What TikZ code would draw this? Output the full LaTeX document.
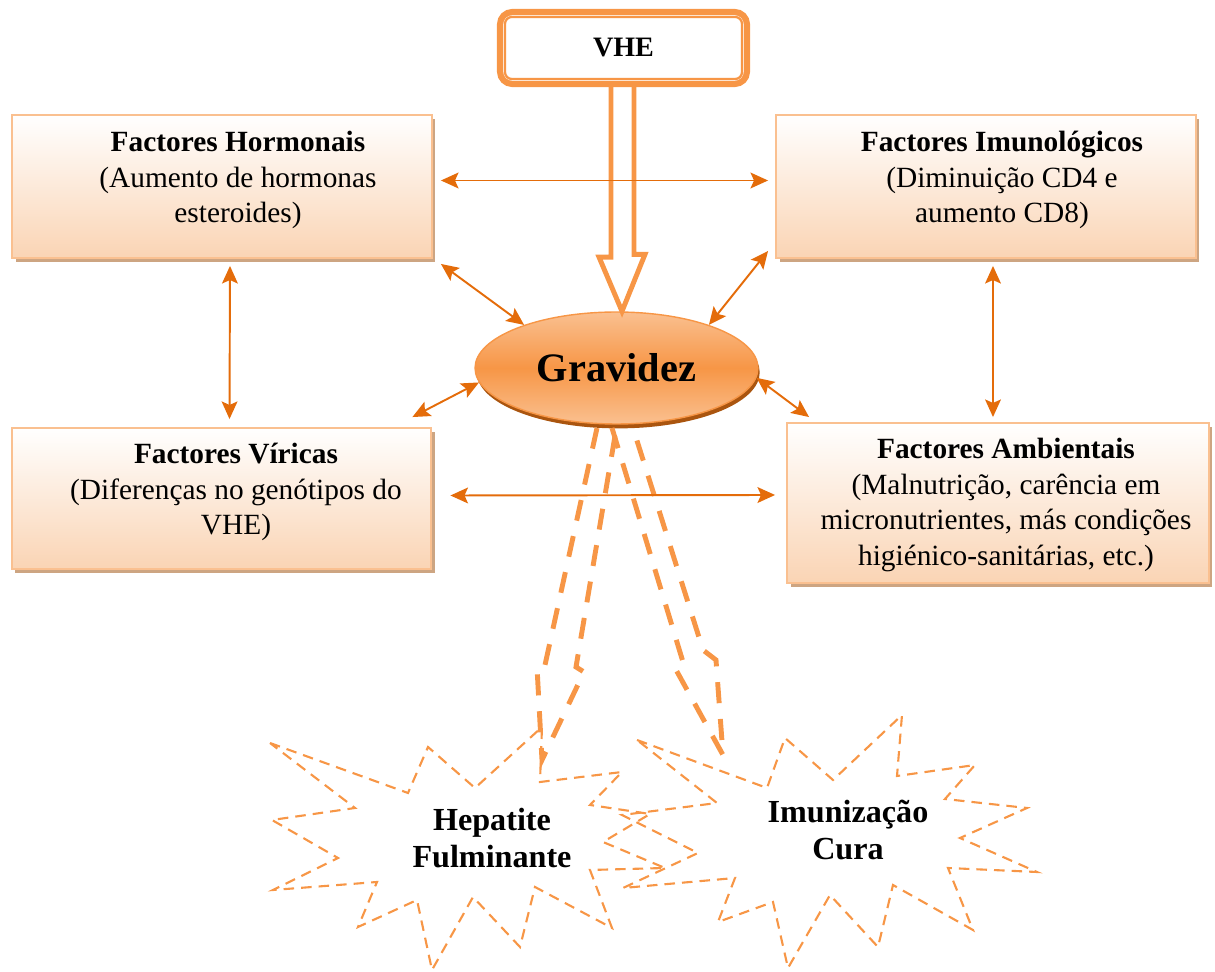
\documentclass[tikz,border=0pt]{standalone}
\usepackage{fontspec}
\setmainfont{Liberation Serif}
\usetikzlibrary{arrows.meta,shapes.geometric,shadows}

\definecolor{accorange}{RGB}{247,150,70}
\definecolor{darkorange}{RGB}{228,108,10}
\definecolor{lightorange}{RGB}{250,192,144}
\definecolor{boxpeach}{RGB}{250,212,180}
\definecolor{boxshadow}{RGB}{205,165,130}
\definecolor{rimbrown}{RGB}{170,85,15}

\tikzset{
  fbox/.style={rectangle, draw=lightorange, line width=1.1pt, top color=white, bottom color=boxpeach,
    minimum width=8.4cm, minimum height=2.86cm,
    drop shadow={shadow xshift=2pt, shadow yshift=-2.5pt, fill=boxshadow, opacity=1}},
  ftext/.style={align=center, font=\fontsize{16.7}{20.3}\selectfont},
  gravell/.style={ellipse, inner sep=0pt, minimum width=5.66cm, minimum height=2.24cm,
    draw=accorange, line width=0.8pt, top color=lightorange, bottom color=lightorange, middle color=accorange,
    drop shadow={shadow xshift=1pt, shadow yshift=-2.5pt, fill=rimbrown, opacity=1},
    font=\bfseries\fontsize{23}{27}\selectfont},
  vhebox/.style={rectangle, rounded corners=7pt, draw=accorange, line width=3.5pt, fill=white,
    minimum width=4.94cm, minimum height=1.44cm, font=\bfseries\fontsize{16}{19}\selectfont},
  vheinner/.style={draw=accorange, line width=1.3pt, rounded corners=4pt},
  hollowarr/.style={draw=accorange, line width=2.8pt, line join=miter},
  dasharr/.style={draw=accorange, line width=2.8pt, dash pattern=on 12pt off 9pt},
  starline/.style={draw=accorange, line width=1.2pt, dash pattern=on 6pt off 4pt, line join=miter},
  startext/.style={align=center, font=\bfseries\fontsize{18.3}{21}\selectfont},
  biarrow/.style={{Stealth[length=10pt,width=9pt,inset=2pt]}-{Stealth[length=10pt,width=9pt,inset=2pt]},
    draw=darkorange, line width=1.1pt}
}

\begin{document}
\begin{tikzpicture}[x=0.02cm, y=-0.02cm]
\useasboundingbox (0,0) rectangle (1215,972);

% factor boxes
\node (horm) at (222,186.5) [fbox] {};
\node (imun) at (986,186.5) [fbox] {};
\node (viri) at (221.5,498.5) [fbox, minimum height=2.82cm] {};
\node (ambi) at (998,503) [fbox, minimum width=8.44cm, minimum height=3.2cm] {};

\node (grav) at (616.5,368) [gravell] {Gravidez};

\node (vhe) at (623.5,48) [vhebox] {VHE};
\draw[vheinner] ([shift={(8,8)}]vhe.north west) rectangle ([shift={(-8,-8)}]vhe.south east);

% dashed block arrows to the outcomes
\draw[dasharr] (597,428) -- (545,665) -- (537,667) -- (542,760) -- (584,672) -- (576,667) -- (616,430);
\draw[dasharr] (612,428) -- (683,662) -- (675,668) -- (723,755) -- (716,660) -- (703,650) -- (633,428);

% outcome stars
\draw[starline] (270,743) -- (408,793) -- (428,747) -- (475,788) -- (542,727) -- (540,782)
  -- (622,772) -- (590,805) -- (650,814) -- (603,842) -- (665,868) -- (590,870)
  -- (612,928) -- (535,887) -- (520,947) -- (473,897) -- (432,970) -- (417,900)
  -- (358,927) -- (377,882) -- (273,890) -- (338,858) -- (272,820) -- (355,808) -- cycle;
\draw[starline] (637,740) -- (767,788) -- (785,738) -- (833,780) -- (902,715) -- (897,776)
  -- (975,765) -- (945,799) -- (1027,808) -- (960,838) -- (1037,872) -- (948,868)
  -- (973,930) -- (893,885) -- (878,947) -- (830,895) -- (788,968) -- (773,902)
  -- (718,922) -- (735,878) -- (623,888) -- (698,853) -- (622,815) -- (717,803) -- cycle;

% VHE into Gravidez
\draw[hollowarr] ([xshift=-0.25cm]vhe.south) -- ++(0,170) -- ++(-12,0) -- ([xshift=0.11cm]grav.north)
  -- ++(23,-57) -- ++(-11,0) -- ++(0,-170);

% links between factors
\draw[biarrow] ([shift={(8,-6)}]horm.east) -- ([shift={(-7,-6)}]imun.west);
\draw[biarrow] ([shift={(8,5)}]horm.south east) -- (grav.155);
\draw[biarrow] ([shift={(-7,-8)}]imun.south west) -- (grav.25);
\draw[biarrow] ([shift={(8,7)}]horm.south) -- ([shift={(8,-8)}]viri.north);
\draw[biarrow] ([shift={(7,7)}]imun.south) -- ([shift={(-5,-5)}]ambi.north);
\draw[biarrow] ([shift={(-20,-10)}]viri.north east) -- (grav.186);
\draw[biarrow] (grav.-4) -- ([shift={(23,-5)}]ambi.north west);
\draw[biarrow] ([shift={(18,-3)}]viri.east) -- ([shift={(-11,-8)}]ambi.west);

% texts
\node (hormt) at (238,180) [ftext] {\textbf{Factores Hormonais}\\(Aumento de hormonas\\esteroides)};
\node (imunt) at (1002,180) [ftext] {\textbf{Factores Imunológicos}\\(Diminuição CD4 e\\aumento CD8)};
\node (virit) at (236,492) [ftext] {\textbf{Factores Víricas}\\(Diferenças no genótipos do\\VHE)};
\node (ambit) at (1006,505) [ftext] {\textbf{Factores Ambientais}\\(Malnutrição, carência em\\micronutrientes, más condições\\higiénico-sanitárias, etc.)};

\node (hep) at (492,838) [startext] {Hepatite\\Fulminante};
\node (imu) at (848,830) [startext] {Imunização\\Cura};
\end{tikzpicture}
\end{document}
